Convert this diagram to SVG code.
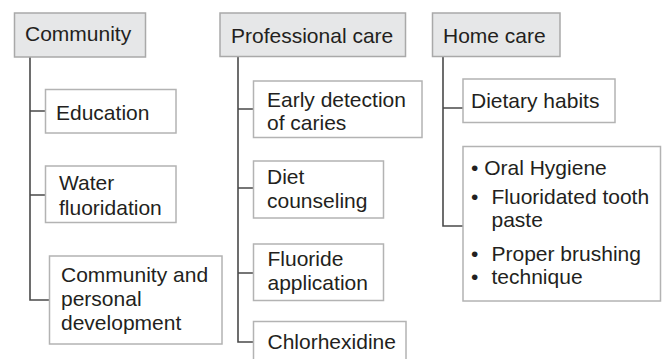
<svg xmlns="http://www.w3.org/2000/svg" width="664" height="359" viewBox="0 0 664 359">
<style>
.hdr{fill:#e6e7e8;stroke:#a9a9a9;stroke-width:1.5}
.box{fill:#ffffff;stroke:#b3b3b3;stroke-width:1.5}
.t{font-family:"Liberation Sans",Arial,sans-serif;font-size:21px;fill:#231f20}
.ln{fill:none;stroke:#4a4a4a;stroke-width:1.6}
</style>
<rect width="664" height="359" fill="#ffffff"/>
<g id="connectors">
<path class="ln" d="M30,57 V300 H49 M30,111 H45 M30,195 H45"/>
<path class="ln" d="M238,57 V342 H253 M238,109 H253 M238,188 H253 M238,273 H253"/>
<path class="ln" d="M443,57 V226 H463 M443,108 H463"/>
</g>
<g id="community">
<rect class="hdr" x="14.5" y="13" width="131" height="44"/>
<text class="t" x="25" y="41">Community</text>
</g>
<g id="professional">
<rect class="hdr" x="220" y="13" width="185.5" height="43.5"/>
<text class="t" x="231" y="42.5">Professional care</text>
</g>
<g id="home">
<rect class="hdr" x="432.5" y="13" width="127.5" height="43.5"/>
<text class="t" x="443" y="42.5">Home care</text>
</g>
<g id="education">
<rect class="box" x="45.5" y="89.5" width="130.5" height="43.5"/>
<text class="t" x="56" y="119.5">Education</text>
</g>
<g id="water">
<rect class="box" x="45.5" y="166" width="130.5" height="56.5"/>
<text class="t" x="59" y="190">Water</text>
<text class="t" x="59" y="214.5">fluoridation</text>
</g>
<g id="personal">
<rect class="box" x="49.5" y="256" width="172.5" height="88"/>
<text class="t" x="61" y="282">Community and</text>
<text class="t" x="61" y="306">personal</text>
<text class="t" x="61" y="330">development</text>
</g>
<g id="early">
<rect class="box" x="253.5" y="81" width="168.5" height="56.5"/>
<text class="t" x="267" y="106.5">Early detection</text>
<text class="t" x="267" y="129.5">of caries</text>
</g>
<g id="diet">
<rect class="box" x="253.5" y="161" width="130" height="57"/>
<text class="t" x="267" y="183.5">Diet</text>
<text class="t" x="267" y="208">counseling</text>
</g>
<g id="fluoride">
<rect class="box" x="253.5" y="244" width="130" height="56.5"/>
<text class="t" x="267.5" y="266">Fluoride</text>
<text class="t" x="267.5" y="290">application</text>
</g>
<g id="chlorhexidine">
<rect class="box" x="253.5" y="321.5" width="152.5" height="45"/>
<text class="t" x="267.5" y="348.5">Chlorhexidine</text>
</g>
<g id="dietary">
<rect class="box" x="463" y="79" width="152" height="43.5"/>
<text class="t" x="471" y="108">Dietary habits</text>
</g>
<g id="hygiene">
<rect class="box" x="463" y="146.5" width="197.5" height="154.5"/>
<text class="t" x="471" y="175">• Oral Hygiene</text>
<text class="t" x="471" y="203.5">•</text>
<text class="t" x="491.5" y="203.5">Fluoridated tooth</text>
<text class="t" x="491.5" y="226.5">paste</text>
<text class="t" x="471" y="261">•</text>
<text class="t" x="491.5" y="261">Proper brushing</text>
<text class="t" x="471" y="284">•</text>
<text class="t" x="491.5" y="284">technique</text>
</g>
</svg>
